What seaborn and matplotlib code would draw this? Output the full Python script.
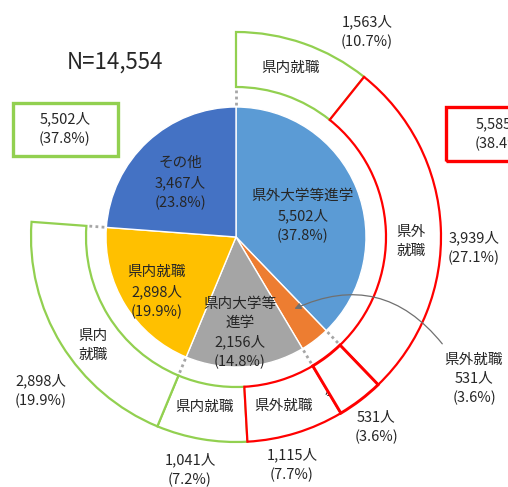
import numpy as np
import matplotlib
matplotlib.use("Agg")
import matplotlib.pyplot as plt
import seaborn as sns
from matplotlib.patches import Rectangle

sns.set_theme(style="white")
plt.rcParams['font.family'] = ['Noto Sans CJK JP', 'DejaVu Sans']

# Inner pie: what graduates did after school
inner_labels = ["県外大学等進学", "県外就職", "県内大学等\n進学", "県内就職", "その他"]
inner_values = [5502, 531, 2156, 2898, 3467]
inner_pcts = [37.8, 3.6, 14.8, 19.9, 23.8]
inner_colors = ["#5B9BD5", "#ED7D31", "#A5A5A5", "#FFC000", "#4472C4"]

# Outer ring: where they were working afterwards (last entry = no ring for その他)
ring_labels = ["県内就職", "県外\n就職", "県外\n就職", "県外就職", "県内就職", "県内\n就職", ""]
ring_values = [1563, 3939, 531, 1115, 1041, 2898, 3467]
ring_pcts = [10.7, 27.1, 3.6, 7.7, 7.2, 19.9, 23.8]
ring_kind = ["in", "out", "out", "out", "in", "in", None]

# Totals per destination
total_in, total_in_pct = 5502, 37.8
total_out, total_out_pct = 5585, 38.4
n_total = 14554

GREEN = "#92D050"
RED = "#FF0000"
TXT = "#262626"
W, H = 508, 487
CX, CY = 236, H - 237
R_IN, R_OUT, RING_W = 130, 205, 55

fig = plt.figure(figsize=(W / 100, H / 100), dpi=100)
ax = fig.add_axes([0, 0, 1, 1])

ax.pie(inner_values, colors=inner_colors, startangle=90, counterclock=False,
       radius=R_IN, center=(CX, CY), frame=True,
       wedgeprops=dict(edgecolor="white", linewidth=1.0))

ring_wedges, _ = ax.pie(ring_values, colors=["white"] * len(ring_values),
                        startangle=90, counterclock=False, radius=R_OUT,
                        center=(CX, CY), frame=True,
                        wedgeprops=dict(width=RING_W, linewidth=1.6))
for i, (w, kind) in enumerate(zip(ring_wedges, ring_kind)):
    if kind is None:
        w.set_visible(False)
    else:
        w.set_edgecolor(GREEN if kind == "in" else RED)
        w.set_zorder(3 if kind == "out" else 2)
ring_wedges[2].set_linewidth(2.1)
ring_wedges[2].set_zorder(4)

# dotted connectors between inner slices and the ring
bounds = np.concatenate([[0], np.cumsum(inner_values)[:-1]]) / sum(inner_values)
for f in bounds:
    a = np.pi / 2 - 2 * np.pi * f
    r = np.array([R_IN + 2, R_OUT - RING_W - 1])
    ax.plot(CX + r * np.cos(a), CY + r * np.sin(a), color="#A6A6A6",
            lw=2.0, ls=(0, (1, 1.2)), zorder=1)

ax.set_xlim(0, W)
ax.set_ylim(0, H)
ax.set_aspect("equal")
ax.axis("off")


def put(px, py, s, size=10.5, **kw):
    ax.text(px, H - py, s, ha="center", va="center", fontsize=size,
            color=TXT, linespacing=1.45, **kw)


def fmt(v, p):
    return f"{v:,}人\n({p}%)"


put(115, 62, f"N={n_total:,}", size=16)

# inner slice labels
inner_pos = [(303, 216), None, (240, 333), (157, 292), (180, 183)]
for pos, lab, v, p in zip(inner_pos, inner_labels, inner_values, inner_pcts):
    if pos:
        put(pos[0], pos[1], f"{lab}\n{fmt(v, p)}")

# ring labels and values
ring_lab_pos = [(291, 68), (411, 241), (339, 381), (284, 406), (205, 407), (93, 345)]
ring_val_pos = [(367, 32), (474, 248), (376, 427), (292, 465), (190, 470), (41, 391)]
for i in range(6):
    put(*ring_lab_pos[i], ring_labels[i])
    put(*ring_val_pos[i], fmt(ring_values[i], ring_pcts[i]))

# orange slice callout
put(474, 379, f"{inner_labels[1]}\n{fmt(inner_values[1], inner_pcts[1])}")
ax.annotate("", xy=(292, H - 310), xytext=(444, H - 346),
            arrowprops=dict(arrowstyle="-|>", color="#707070", lw=0.9,
                            mutation_scale=9,
                            connectionstyle="arc3,rad=0.4"))

# totals boxes
ax.add_patch(Rectangle((13, H - 156), 105, 53, fill=False, ec=GREEN, lw=2.4))
put(65, 129, fmt(total_in, total_in_pct))
ax.add_patch(Rectangle((446, H - 161), 110, 54, fill=False, ec=RED, lw=2.4))
put(501, 134, fmt(total_out, total_out_pct))

fig.savefig("out.png", dpi=100)
